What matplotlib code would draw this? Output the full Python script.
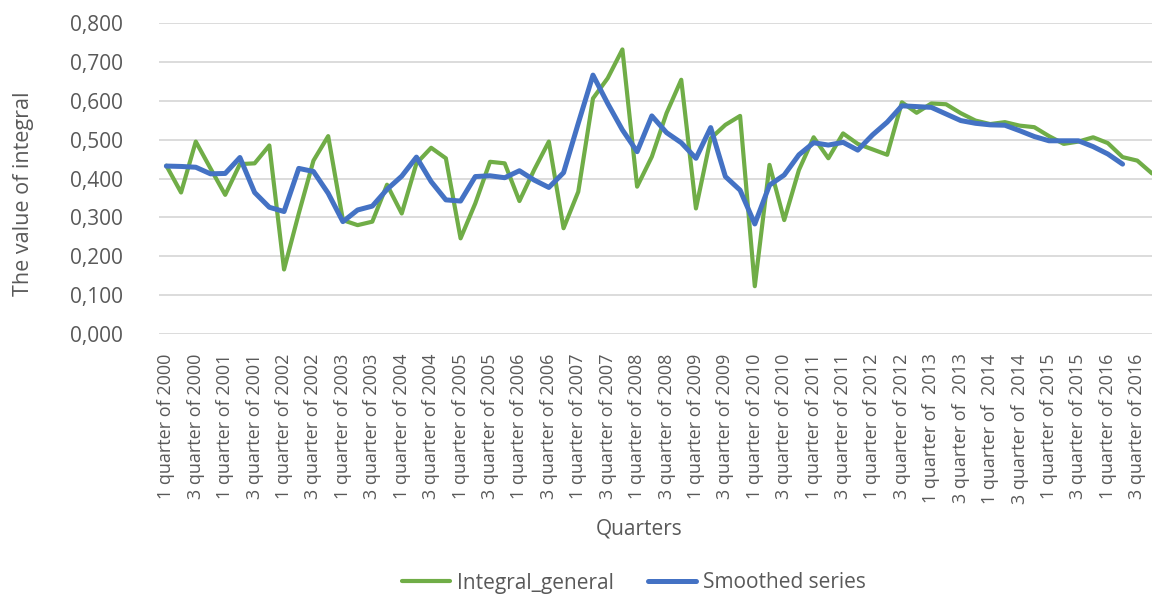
import matplotlib.pyplot as plt

plt.rcParams['font.family'] = ['Open Sans', 'DejaVu Sans']

# quarterly values, 1 quarter of 2000 .. 4 quarter of 2016
integral_general = [
    0.433, 0.364, 0.495, 0.426, 0.358, 0.437, 0.439, 0.485, 0.166, 0.310,
    0.446, 0.509, 0.293, 0.280, 0.289, 0.384, 0.310, 0.439, 0.479, 0.452,
    0.246, 0.336, 0.443, 0.439, 0.342, 0.422, 0.495, 0.272, 0.366, 0.606,
    0.658, 0.732, 0.379, 0.456, 0.568, 0.654, 0.323, 0.503, 0.538, 0.561,
    0.123, 0.435, 0.293, 0.422, 0.506, 0.452, 0.516, 0.489, 0.475, 0.461,
    0.596, 0.569, 0.593, 0.591, 0.568, 0.549, 0.540, 0.545, 0.536, 0.532,
    0.509, 0.489, 0.495, 0.506, 0.491, 0.455, 0.446, 0.413,
]
smoothed_series = [
    0.432, 0.431, 0.429, 0.412, 0.413, 0.454, 0.364, 0.326, 0.315, 0.426,
    0.418, 0.362, 0.289, 0.319, 0.329, 0.372, 0.406, 0.455, 0.392, 0.345,
    0.342, 0.405, 0.407, 0.402, 0.420, 0.396, 0.377, 0.415, 0.542, 0.666,
    0.593, 0.525, 0.469, 0.561, 0.518, 0.492, 0.452, 0.531, 0.405, 0.370,
    0.283, 0.383, 0.409, 0.461, 0.492, 0.486, 0.493, 0.473, 0.512, 0.545,
    0.587, 0.585, 0.583, 0.566, 0.549, 0.542, 0.538, 0.537, 0.523, 0.508,
    0.497, 0.497, 0.497, 0.482, 0.463, 0.437,
]
years = list(range(2000, 2017))
tick_labels = []
for y in years:
    sep = '  ' if y in (2013, 2014) else ' '
    tick_labels.append(f'1 quarter of{sep}{y}')
    tick_labels.append(f'3 quarter of{sep}{y}')

grey = '#595959'

fig = plt.figure(figsize=(11.52, 5.97), dpi=100)
ax = fig.add_axes([159 / 1152, 1 - 334 / 597, (1152 - 159) / 1152, (334 - 23) / 597])

ax.plot(range(len(integral_general)), integral_general, color='#70AD47', lw=3.0,
        solid_joinstyle='round', solid_capstyle='round', label='Integral_general')
ax.plot(range(len(smoothed_series)), smoothed_series, color='#4472C4', lw=3.6,
        solid_joinstyle='round', solid_capstyle='round', label='Smoothed series')

ax.set_xlim(-0.5, 67.0)
ax.set_ylim(0, 0.8)
ax.set_yticks([i / 10 for i in range(9)])
ax.set_yticklabels([f'{i / 10:.3f}'.replace('.', ',') for i in range(9)])
ax.set_xticks(range(0, 68, 2))
ax.set_xticklabels(tick_labels, rotation=90, va='top', ha='center')

ax.grid(axis='y', color='#d9d9d9', lw=1.3)
ax.set_axisbelow(True)
for s in ax.spines.values():
    s.set_visible(False)
ax.tick_params(axis='both', length=0, colors=grey)
ax.tick_params(axis='y', labelsize=15, pad=26)
ax.tick_params(axis='x', labelsize=13, pad=14)

fig.text(24 / 1152, 1 - 194 / 597, 'The value of integral', rotation=90,
         ha='center', va='center', fontsize=15.5, color=grey)
fig.text(639 / 1152, 1 - 529 / 597, 'Quarters', ha='center', va='center',
         fontsize=15, color=grey)

leg = fig.legend(loc='center', bbox_to_anchor=(634 / 1152, 1 - 583 / 597), ncol=2,
                 frameon=False, fontsize=15, handlelength=2.3, handletextpad=0.35,
                 columnspacing=1.6)
for t in leg.get_texts():
    t.set_color(grey)

fig.savefig('out.png', dpi=100)
